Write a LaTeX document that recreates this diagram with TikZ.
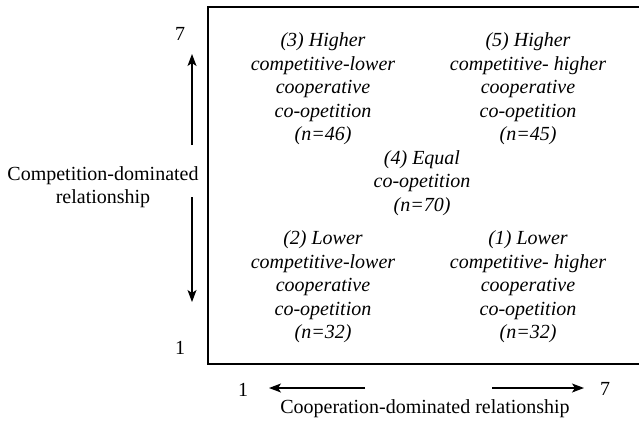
\documentclass[tikz,border=0pt]{standalone}
\usepackage{fontspec}
\setmainfont{Liberation Serif}
\usetikzlibrary{arrows.meta}
\begin{document}
\begin{tikzpicture}[x=1pt,y=-1pt,
  lbl/.style={font=\fontsize{20}{23}\selectfont, inner sep=0pt, align=center},
  cell/.style={font=\fontsize{20}{23.5}\selectfont\itshape, inner sep=0pt, align=center},
  axarrow/.style={line width=1.1pt, -{Stealth[length=12pt,width=9pt,inset=3pt]}},
  frame/.style={line width=2pt}]
\useasboundingbox (0,0) rectangle (639,423);
% frame
\coordinate (tr) at (641,7);
\coordinate (tl) at (208,7);
\coordinate (bl) at (208,364);
\coordinate (br) at (641,364);
\draw[frame] (tr) -- (tl) -- (bl) -- (br);
% axis numbers
\node[lbl] (y7) at (180,34) {7};
\node[lbl] (y1) at (180,348) {1};
\node[lbl] (x1) at (243,390) {1};
\node[lbl] (x7) at (605,389) {7};
% axis labels
\node[lbl] (ylab) at (103,187) {Competition-dominated\\relationship};
\node[lbl] (xlab) at (425,409) {Cooperation-dominated relationship};
% arrows
\coordinate (ua) at (192,145);
\coordinate (ub) at (192,54);
\coordinate (da) at (192,197);
\coordinate (db) at (192,302);
\coordinate (la) at (365,388);
\coordinate (lb) at (269,388);
\coordinate (ra) at (492,388);
\coordinate (rb) at (584,388);
\draw[axarrow] (ua) -- (ub);
\draw[axarrow] (da) -- (db);
\draw[axarrow] (la) -- (lb);
\draw[axarrow] (ra) -- (rb);
% cells
\node[cell] (c3) at (323,89) {(3) Higher\\competitive-lower\\cooperative\\co-opetition\\(n=46)};
\node[cell] (c5) at (528,89) {(5) Higher\\competitive- higher\\cooperative\\co-opetition\\(n=45)};
\node[cell] (c4) at (422,183) {(4) Equal\\co-opetition\\(n=70)};
\node[cell] (c2) at (323,287) {(2) Lower\\competitive-lower\\cooperative\\co-opetition\\(n=32)};
\node[cell] (c1) at (528,287) {(1) Lower\\competitive- higher\\cooperative\\co-opetition\\(n=32)};
\end{tikzpicture}
\end{document}
